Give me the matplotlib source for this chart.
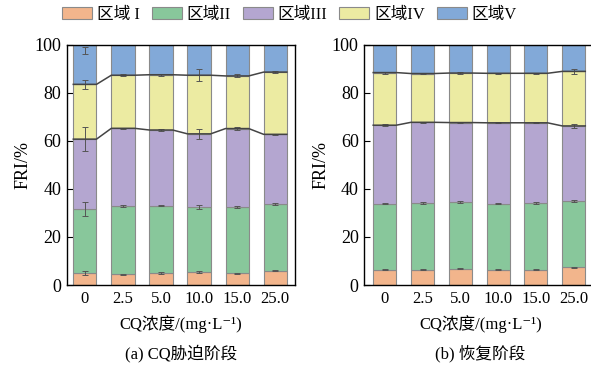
import numpy as np
import matplotlib.pyplot as plt
from matplotlib.patches import Patch

plt.rcParams['font.family'] = ['Liberation Serif', 'Noto Sans CJK SC',
                               'DejaVu Serif']

conc = ['0', '2.5', '5.0', '10.0', '15.0', '25.0']
regions = ['区域 I', '区域II', '区域III', '区域IV', '区域V']
colors = ['#F2B58C', '#88C79B', '#B4A6D0', '#ECEBA2', '#82A9D8']

# segment heights (%) for each region, stress stage
stress_I = [5.0, 4.4, 5.0, 5.3, 4.8, 6.0]
stress_II = [26.6, 28.3, 28.0, 27.1, 27.6, 27.7]
stress_III = [29.1, 32.5, 31.5, 30.5, 32.7, 29.0]
stress_IV = [22.8, 22.1, 23.0, 24.4, 21.9, 25.9]
stress_V = [16.5, 12.7, 12.5, 12.7, 13.0, 11.4]
stress_err = [[0.7, 0.3, 0.3, 0.4, 0.4, 0.3],
              [3.0, 0.4, 0.3, 0.8, 0.3, 0.3],
              [5.0, 0.3, 0.5, 2.0, 0.5, 0.3],
              [2.0, 0.4, 0.5, 2.6, 0.6, 0.3],
              [1.6, 0.0, 0.0, 0.0, 0.0, 0.0]]

# recovery stage
recov_I = [6.4, 6.4, 6.8, 6.4, 6.4, 7.3]
recov_II = [27.4, 27.8, 27.8, 27.5, 27.8, 27.6]
recov_III = [32.7, 33.5, 33.0, 33.6, 33.3, 31.3]
recov_IV = [21.9, 20.3, 20.6, 20.6, 20.6, 22.7]
recov_V = [11.6, 12.0, 11.8, 11.9, 11.9, 11.1]
recov_err = [[0.3, 0.3, 0.3, 0.3, 0.3, 0.3],
             [0.3, 0.3, 0.3, 0.2, 0.3, 0.3],
             [0.4, 0.3, 0.3, 0.2, 0.2, 1.0],
             [0.4, 0.3, 0.3, 0.2, 0.3, 1.0],
             [0.0, 0.0, 0.0, 0.0, 0.0, 0.0]]

WIDTH = 0.61


def draw_panel(ax, segs, errs, xlim, caption):
    x = np.arange(len(conc))
    bottom = np.zeros(len(conc))
    tops = []
    for seg, col, err in zip(segs, colors, errs):
        seg = np.array(seg)
        ax.bar(x, seg, WIDTH, bottom=bottom, color=col,
               edgecolor='#8a8a8a', linewidth=0.8, zorder=2)
        top = bottom + seg
        tops.append(top)
        err = np.array(err)
        yc = np.where(top >= 99.9, top - 1.5 * err, top)
        m = err > 0
        ax.errorbar(x[m], yc[m], yerr=err[m], fmt='none', ecolor='#555555',
                    elinewidth=0.7, capsize=2, capthick=0.7, zorder=3)
        bottom = top
    # connecting lines at boundaries III/IV and IV/V
    for top in (tops[2], tops[3]):
        xs = np.ravel(np.column_stack([x - WIDTH / 2, x + WIDTH / 2]))
        ys = np.repeat(top, 2)
        ax.plot(xs, ys, color='#444444', lw=1.1, zorder=4)

    ax.set_xlim(*xlim)
    ax.set_ylim(0, 100)
    ax.set_yticks(range(0, 101, 20))
    ax.set_xticks(x)
    ax.set_xticklabels(conc, fontsize=12)
    ax.tick_params(axis='y', direction='in', length=4, labelsize=13, pad=4)
    ax.tick_params(axis='x', direction='in', length=4, pad=4)
    ax.set_ylabel('FRI/%', fontsize=13, labelpad=2)
    ax.set_xlabel('CQ浓度/(mg·L⁻¹)', fontsize=12, labelpad=6)
    ax.text(0.5, -0.285, caption, transform=ax.transAxes, ha='center',
            va='center', fontsize=12)
    for sp in ax.spines.values():
        sp.set_linewidth(1.0)


fig = plt.figure(figsize=(5.91, 3.70), dpi=100)
ax1 = fig.add_axes([67 / 591, 85 / 370, 228 / 591, 240.3 / 370])
ax2 = fig.add_axes([364.3 / 591, 85 / 370, 232.5 / 591, 240.3 / 370])

draw_panel(ax1, [stress_I, stress_II, stress_III, stress_IV, stress_V],
           stress_err, (-0.47, 5.52), '(a) CQ胁迫阶段')
draw_panel(ax2, [recov_I, recov_II, recov_III, recov_IV, recov_V],
           recov_err, (-0.54, 5.61), '(b) 恢复阶段')

handles = [Patch(facecolor=c, edgecolor='#8a8a8a', lw=0.8) for c in colors]
fig.legend(handles, regions, loc='center', bbox_to_anchor=(0.49, 0.96),
           ncol=5, frameon=False, fontsize=12, handlelength=1.8,
           handleheight=0.8, handletextpad=0.3, columnspacing=0.7,
           borderaxespad=0)

fig.savefig('out.png', dpi=100)
